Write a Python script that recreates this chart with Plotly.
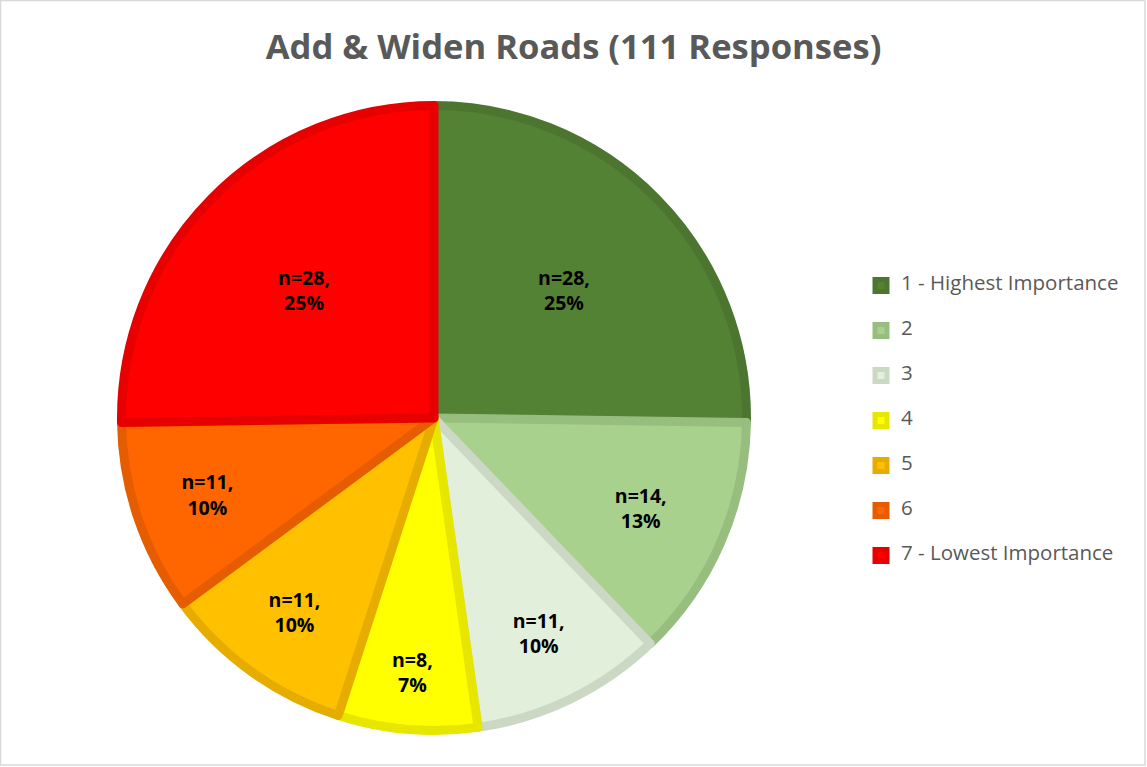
import plotly.graph_objects as go

# Survey results: importance ranking for "Add & Widen Roads"
ratings = ["1 - Highest Importance", "2", "3", "4", "5", "6", "7 - Lowest Importance"]
counts = [28, 14, 11, 8, 11, 11, 28]

fill_colors = ["#548235", "#A9D18E", "#E2EFDA", "#FFFF00", "#FFC000", "#FF6600", "#FF0000"]
edge_colors = ["#4C7630", "#97BE7E", "#CBD8C3", "#E6E600", "#E6AD00", "#E65C00", "#E60000"]

title_text = "Add & Widen Roads (111 Responses)"

W, H = 1147, 767
text_grey = "#595959"
base_font = "Open Sans"

# legend rows: blank line above and below so every row is 45px tall
legend_font_size = 14 / 1.3
legend_labels = [
    "\u00a0<br><span style='font-size:20.5px'>" + r + "</span><br>\u00a0" for r in ratings
]

# pie geometry in pixels
cx, cy, R, edge_w = 434, 418, 312.5, 9

fig = go.Figure(
    go.Pie(
        labels=legend_labels,
        values=counts,
        sort=False,
        direction="clockwise",
        rotation=0,
        marker=dict(colors=fill_colors, line=dict(color=edge_colors, width=edge_w)),
        texttemplate="n=%{value},<br>%{percent:.0%}",
        textposition="inside",
        insidetextorientation="horizontal",
        insidetextfont=dict(family=base_font, size=19.5, color="#000000", weight="bold"),
        hoverinfo="skip",
        domain=dict(
            x=[(cx - R) / W, (cx + R) / W],
            y=[(H - cy - R) / H, (H - cy + R) / H],
        ),
    )
)

fig.update_layout(
    width=W,
    height=H,
    margin=dict(l=0, r=0, t=0, b=0),
    paper_bgcolor="#FFFFFF",
    plot_bgcolor="#FFFFFF",
    title=dict(
        text=title_text,
        x=0.5,
        xanchor="center",
        xref="paper",
        y=1 - 47 / H,
        yanchor="middle",
        font=dict(family=base_font, size=34.6, color=text_grey, weight="bold"),
    ),
    legend=dict(
        x=861 / W,
        xanchor="left",
        y=1 - 258 / H,
        yanchor="top",
        font=dict(family=base_font, size=legend_font_size, color=text_grey),
        valign="middle",
        bgcolor="rgba(0,0,0,0)",
        borderwidth=0,
    ),
    shapes=[
        dict(
            type="rect",
            xref="paper",
            yref="paper",
            x0=0.5 / W,
            x1=1145 / W,
            y0=1 - 765 / H,
            y1=1 - 0.5 / H,
            line=dict(color="#D9D9D9", width=1.5),
            fillcolor="rgba(0,0,0,0)",
            layer="above",
        )
    ],
)

fig.write_html("out.html")
